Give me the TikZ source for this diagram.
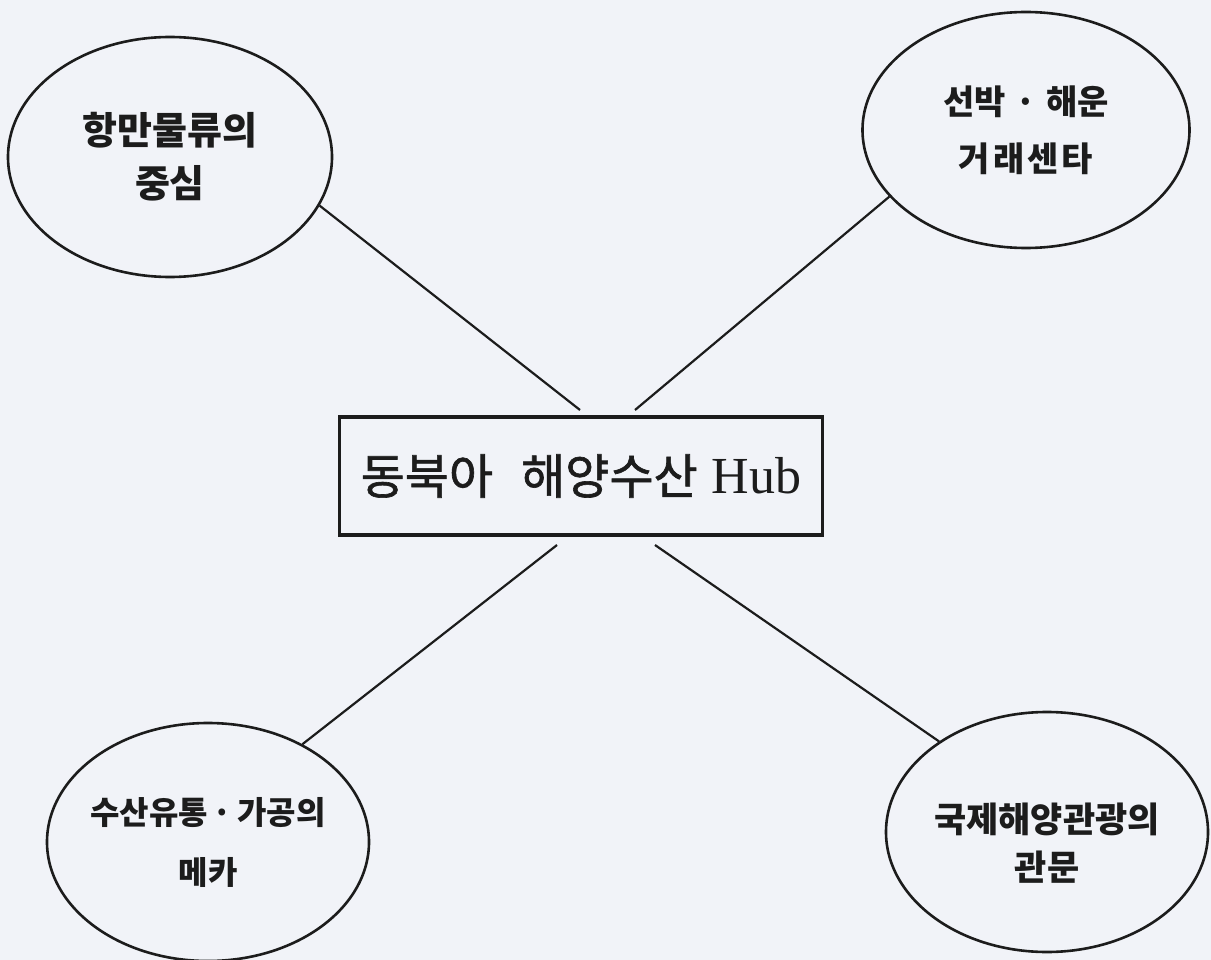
\documentclass[tikz,border=0pt]{standalone}
\usepackage{fontspec}
\usetikzlibrary{shapes.geometric}
\newfontfamily\kr{Noto Sans CJK KR}
\newfontfamily\krt{Noto Sans CJK KR}[FakeBold=1.3]
\newfontfamily\hubfont{Liberation Serif}
\definecolor{paper}{RGB}{241,243,248}
\definecolor{ink}{RGB}{28,28,28}
\begin{document}
\begin{tikzpicture}[x=1pt,y=-1pt,
  bubble/.style={draw=ink, line width=2.6pt, ellipse, inner sep=0pt},
  btext/.style={align=center, text=ink, inner sep=0pt},
  hubbox/.style={draw=ink, line width=3.2pt, rectangle, minimum width=483pt, minimum height=118pt, inner sep=0pt, text=ink},
  link/.style={draw=ink, line width=2.2pt}]
\fill[paper] (0,0) rectangle (1211,960);
\useasboundingbox (0,0) rectangle (1211,960);

\node[bubble, minimum width=324pt, minimum height=240pt,
  label={[btext, font=\kr\bfseries\fontsize{38}{53}\selectfont]center:{항만물류의\\중심}}] (tl) at (170,157) {};
\node[bubble, minimum width=327pt, minimum height=236pt,
  label={[btext, font=\kr\bfseries\fontsize{34}{57}\selectfont]center:{선박\hspace{10pt}·\hspace{10pt}해운\\거\hspace{3pt}래\hspace{3pt}센\hspace{3pt}타}}] (tr) at (1026,130) {};
\node[bubble, minimum width=322pt, minimum height=238pt,
  label={[btext, font=\kr\bfseries\fontsize{32}{60}\selectfont]center:{수산유통\hspace{5pt}·\hspace{5pt}가공의\\메카}}] (bl) at (208,842) {};
\node[bubble, minimum width=322pt, minimum height=240pt,
  label={[btext, font=\kr\bfseries\fontsize{35}{48}\selectfont, yshift=-11pt]center:{국제해양관광의\\관문}}] (br) at (1047,832) {};

\node[hubbox] (hub) at (581,476) {{\krt\fontsize{48}{48}\selectfont 동북아\hspace{28pt}해양수산}\hspace{14pt}{\hubfont\fontsize{52}{52}\selectfont Hub}};

\coordinate (hubTL) at (580,410);
\coordinate (hubTR) at (635,410);
\coordinate (hubBL) at (557,545);
\coordinate (hubBR) at (655,545);

\draw[link] (tl.-18) -- (hubTL);
\draw[link] (tr.206) -- (hubTR);
\draw[link] (bl.46) -- (hubBL);
\draw[link] (br.140) -- (hubBR);
\end{tikzpicture}
\end{document}
